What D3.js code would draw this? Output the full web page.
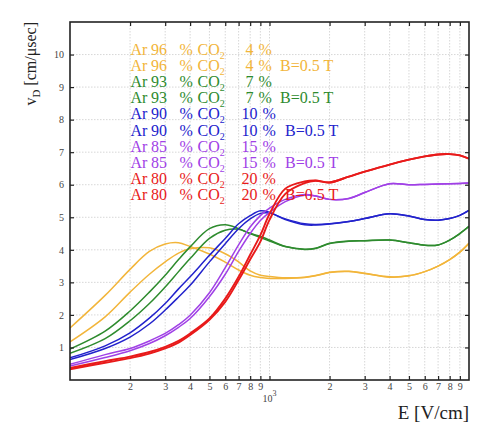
<!DOCTYPE html>
<html>
<head>
<meta charset="utf-8">
<script src="https://cdn.jsdelivr.net/npm/d3@7"></script>
<style>
  html, body { margin: 0; padding: 0; background: #ffffff; }
  svg { display: block; }
</style>
</head>
<body>
<svg id="chart" width="495" height="440"></svg>
<script>
// ---- data ----
const E = [100, 150, 200, 250, 300, 350, 400, 500, 600, 700, 800, 900, 1000, 1200, 1500, 1700, 2000, 2500, 3000, 4000, 5000, 6000, 7000, 8000, 9000, 10000];

const ar96   = [1.60, 2.60, 3.40, 3.95, 4.18, 4.22, 4.10, 3.87, 3.62, 3.38, 3.22, 3.15, 3.12, 3.12, 3.15, 3.20, 3.30, 3.33, 3.27, 3.17, 3.20, 3.33, 3.50, 3.70, 3.93, 4.20];
const ar96B  = [1.17, 1.94, 2.70, 3.25, 3.63, 3.90, 4.03, 4.06, 3.88, 3.63, 3.35, 3.22, 3.18, 3.14, 3.16, 3.21, 3.31, 3.34, 3.28, 3.16, 3.20, 3.33, 3.50, 3.70, 3.93, 4.20];
const ar93   = [0.95, 1.50, 2.12, 2.70, 3.22, 3.70, 4.09, 4.65, 4.77, 4.65, 4.50, 4.42, 4.30, 4.10, 4.02, 4.05, 4.20, 4.27, 4.28, 4.30, 4.22, 4.14, 4.15, 4.30, 4.50, 4.72];
const ar93B  = [0.82, 1.27, 1.82, 2.35, 2.86, 3.33, 3.73, 4.35, 4.60, 4.63, 4.50, 4.38, 4.27, 4.10, 4.01, 4.04, 4.19, 4.26, 4.28, 4.30, 4.22, 4.14, 4.15, 4.30, 4.50, 4.72];
const ar90   = [0.68, 1.05, 1.45, 1.90, 2.35, 2.80, 3.17, 3.83, 4.35, 4.80, 5.05, 5.20, 5.15, 4.93, 4.77, 4.76, 4.79, 4.87, 4.96, 5.11, 5.04, 4.93, 4.91, 4.96, 5.06, 5.21];
const ar90B  = [0.63, 0.97, 1.32, 1.72, 2.15, 2.55, 2.91, 3.63, 4.19, 4.65, 4.95, 5.12, 5.13, 4.95, 4.80, 4.78, 4.80, 4.87, 4.96, 5.11, 5.04, 4.93, 4.91, 4.96, 5.06, 5.21];
const ar85   = [0.48, 0.78, 0.97, 1.20, 1.43, 1.70, 1.99, 2.68, 3.45, 4.15, 4.70, 5.05, 5.28, 5.55, 5.70, 5.66, 5.55, 5.58, 5.76, 6.03, 6.00, 6.01, 6.02, 6.03, 6.04, 6.05];
const ar85B  = [0.43, 0.69, 0.90, 1.12, 1.36, 1.62, 1.89, 2.56, 3.25, 3.95, 4.50, 4.90, 5.15, 5.48, 5.68, 5.65, 5.55, 5.58, 5.76, 6.03, 6.00, 6.01, 6.02, 6.03, 6.04, 6.05];
const ar80   = [0.37, 0.58, 0.72, 0.86, 1.02, 1.20, 1.43, 1.89, 2.50, 3.17, 3.85, 4.45, 5.10, 5.88, 6.10, 6.13, 6.07, 6.25, 6.40, 6.62, 6.77, 6.87, 6.93, 6.94, 6.90, 6.80];
const ar80B  = [0.33, 0.53, 0.67, 0.81, 0.97, 1.15, 1.38, 1.85, 2.40, 3.07, 3.70, 4.25, 4.92, 5.72, 6.05, 6.12, 6.07, 6.25, 6.40, 6.62, 6.77, 6.87, 6.93, 6.94, 6.90, 6.80];

const seriesValues = [ar96, ar96B, ar93, ar93B, ar90, ar90B, ar85, ar85B, ar80, ar80B];
const seriesColors = ["#f2b53a", "#f2b53a", "#2e8b2e", "#2e8b2e", "#2222cc", "#2222cc", "#a040e6", "#a040e6", "#e81a1a", "#e81a1a"];
const argonPct   = ["96", "96", "93", "93", "90", "90", "85", "85", "80", "80"];
const co2Pct     = ["4", "4", "7", "7", "10", "10", "15", "15", "20", "20"];
const fieldLabel = ["", "B=0.5 T", "", "B=0.5 T", "", "B=0.5 T", "", "B=0.5 T", "", "B=0.5 T"];

const xMinorTicks = [200, 300, 400, 500, 600, 700, 800, 900, 1000, 2000, 3000, 4000, 5000, 6000, 7000, 8000, 9000];
const yTicks = [1, 2, 3, 4, 5, 6, 7, 8, 9, 10];

// ---- layout ----
const SERIF = "'Liberation Serif', 'Times New Roman', Tinos, Times, 'DejaVu Serif', serif";
const L = 70, R = 469, T = 22, B = 380;
const svg = d3.select("#chart");

const x = d3.scaleLog().domain([100, 10000]).range([L, R]);
const y = d3.scaleLinear().domain([0, 11]).range([B, T]);

// grid
const grid = svg.append("g").attr("stroke", "#d2d2d2").attr("stroke-width", 0.9).attr("stroke-dasharray", "1.5,1.5");
grid.selectAll("line.v").data(xMinorTicks).join("line")
  .attr("x1", d => x(d)).attr("x2", d => x(d)).attr("y1", T).attr("y2", B);
grid.selectAll("line.h").data(yTicks).join("line")
  .attr("x1", L).attr("x2", R).attr("y1", d => y(d)).attr("y2", d => y(d));

// curves
svg.append("defs").append("clipPath").attr("id", "clip")
  .append("rect").attr("x", L).attr("y", T).attr("width", R - L).attr("height", B - T);

const line = d3.line()
  .x((d, i) => x(E[i]))
  .y(d => y(d))
  .curve(d3.curveCatmullRom.alpha(0.5));

const curves = svg.append("g").attr("clip-path", "url(#clip)");
seriesValues.forEach((vals, k) => {
  curves.append("path")
    .attr("d", line(vals))
    .attr("fill", "none")
    .attr("stroke", seriesColors[k])
    .attr("stroke-width", k >= 8 ? 1.9 : 1.5);
});

// axes (inward ticks on all four sides)
const fmtX = d => d === 1000 ? "" : String(Math.round(d / Math.pow(10, Math.floor(Math.log10(d) + 1e-9))));
const axB = svg.append("g").attr("transform", `translate(0,${B})`)
  .call(d3.axisBottom(x).tickValues(xMinorTicks).tickSize(-4).tickPadding(3).tickFormat(fmtX));
const axT = svg.append("g").attr("transform", `translate(0,${T})`)
  .call(d3.axisTop(x).tickValues(xMinorTicks).tickSize(-4).tickFormat(""));
const axL = svg.append("g").attr("transform", `translate(${L},0)`)
  .call(d3.axisLeft(y).tickValues(yTicks).tickSize(-4).tickPadding(6).tickFormat(d3.format("d")));
const axR = svg.append("g").attr("transform", `translate(${R},0)`)
  .call(d3.axisRight(y).tickValues(yTicks).tickSize(-4).tickFormat(""));

[axB, axT, axL, axR].forEach(g => {
  g.select(".domain").remove();
  g.attr("font-family", null);
  g.selectAll(".tick line").attr("stroke", "#222").attr("stroke-width", 1.2);
  g.selectAll(".tick text").attr("fill", "#444").attr("font-size", 10);
});

// frame
svg.append("rect").attr("x", L).attr("y", T).attr("width", R - L).attr("height", B - T)
  .attr("fill", "none").attr("stroke", "#222").attr("stroke-width", 1.6);

// 10^3 label
const dec = svg.append("text").attr("x", x(1000)).attr("y", 402)
  .attr("text-anchor", "middle").attr("font-size", 10).attr("fill", "#444");
dec.append("tspan").text("10");
dec.append("tspan").attr("dy", -6).attr("font-size", 8).text("3");

// axis titles
svg.append("text").attr("x", R).attr("y", 419).attr("text-anchor", "end")
  .attr("font-size", 19).attr("fill", "#222").text("E [V/cm]");

const yt = svg.append("text")
  .attr("transform", "translate(36,22) rotate(-90)")
  .attr("text-anchor", "end").attr("font-size", 16).attr("fill", "#222");
yt.append("tspan").text("v");
yt.append("tspan").attr("dy", 4).attr("font-size", 11).text("D");
yt.append("tspan").attr("dy", -4).text(" [cm/\u03bcsec]");

// legend: one text per line, tokens placed in columns
const legend = svg.append("g").attr("font-size", 16);
seriesValues.forEach((vals, k) => {
  const by = 54.5 + 16.2 * k;
  const two = co2Pct[k].length > 1;
  const t = legend.append("text").attr("y", by).attr("fill", seriesColors[k]);
  t.append("tspan").attr("x", 130.5).text("Ar");
  t.append("tspan").attr("x", 151).text(argonPct[k]);
  t.append("tspan").attr("x", 179.5).text("%");
  t.append("tspan").attr("x", 197.5).text("CO");
  t.append("tspan").attr("dy", 4).attr("font-size", 10).text("2");
  t.append("tspan").attr("x", two ? 241.5 : 245.5).attr("dy", -4).text(co2Pct[k]);
  t.append("tspan").attr("x", two ? 262.5 : 258.5).text("%");
  if (fieldLabel[k]) t.append("tspan").attr("x", two ? 285 : 280).text(fieldLabel[k]);
});

svg.selectAll("text").style("font-family", SERIF);
</script>
</body>
</html>
